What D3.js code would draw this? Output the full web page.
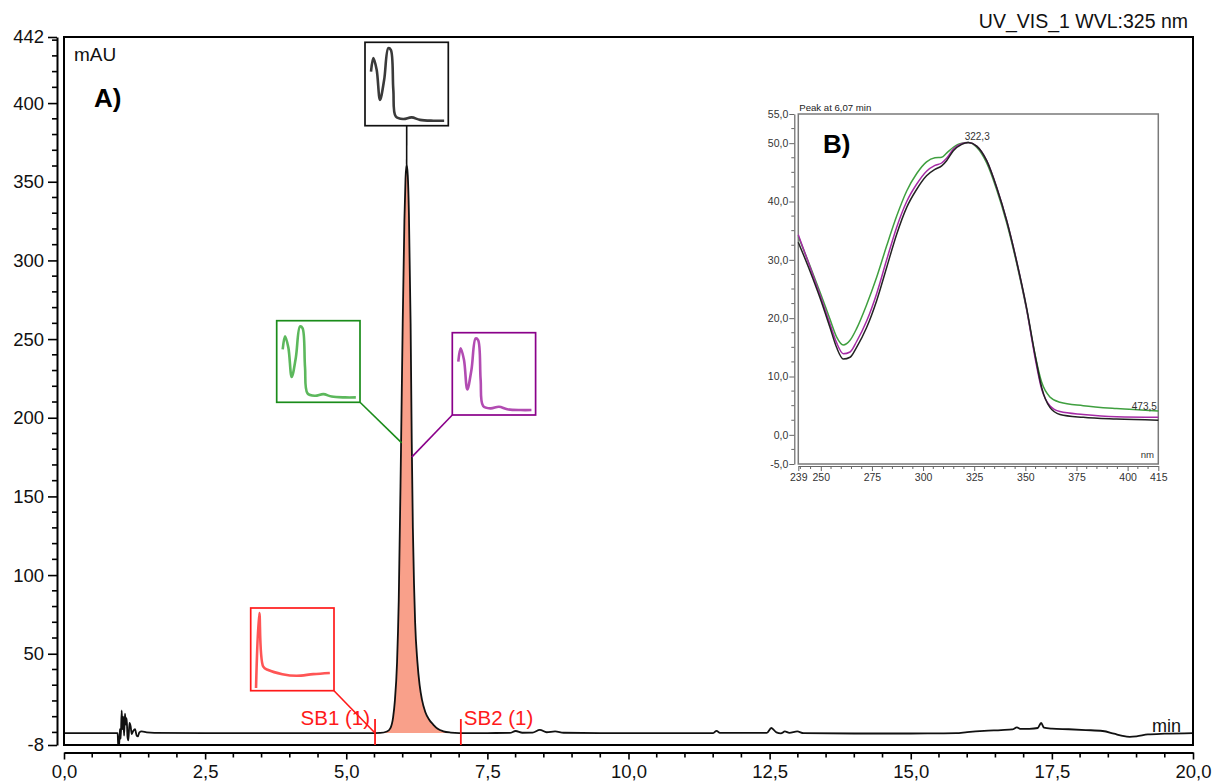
<!DOCTYPE html>
<html><head><meta charset="utf-8">
<script src="https://cdn.jsdelivr.net/npm/d3@7/dist/d3.min.js"></script>
<style>
body{margin:0;background:#fff}
text{font-family:"Liberation Sans",Arial,Helvetica,sans-serif}
</style>
</head><body>
<svg id="chart" width="1217" height="782"></svg>
<script>
// ---------- DATA ----------
// Chromatogram (UV_VIS_1, 325 nm): retention time (min) and absorbance (mAU)
const chromTime = [0,0.5,0.9,0.95,0.962,0.975,0.99,1.005,1.022,1.035,1.05,1.065,1.08,1.095,1.11,1.125,1.14,1.16,1.18,1.2,1.228,1.258,1.287,1.31,1.334,1.376,1.465,1.6,2.5,3.5,4.5,5.0,5.5,
  5.6,5.72,5.78,5.83,5.86,5.9,5.93,5.97,6.0,6.03,6.05,6.07,6.09,6.11,6.14,6.16,6.18,6.2,6.22,6.26,6.3,6.34,6.4,6.47,6.54,6.62,6.72,6.85,
  7.0,7.5,7.9,8.0,8.12,8.3,8.43,8.55,8.7,8.85,9.5,10.5,11.5,11.56,11.62,12.45,12.53,12.62,12.7,12.77,12.85,12.99,13.1,14.0,15.0,15.5,15.8,
  16.0,16.3,16.6,16.8,16.88,16.95,17.1,17.25,17.31,17.36,17.5,17.8,18.1,18.4,18.6,18.75,18.88,19.0,19.2,19.5,20.0];
const chromAbs = [-0.4,-0.4,-0.4,-0.4,-9.5,-9.5,2,-4,14,2,10,-2,12,5,9,-3,-5,6,4,-1,1,2,-2,-2.5,0,0.6,0,-0.3,-0.4,-0.4,-0.4,-0.4,-0.4,
  -0.3,0.6,2.6,9.6,19.6,44.6,84,180,260,325,352,361,354,330,260,185,130,95,70,45,30,21,13,8,5,2.3,0.7,-0.1,
  -0.4,-0.4,-0.3,0.9,-0.2,-0.1,1.6,0.1,0.7,-0.2,-0.4,-0.4,-0.4,1.0,-0.3,-0.3,2.8,0.0,-0.6,0.6,-0.3,0.6,-0.5,-0.7,-0.7,-0.6,-0.5,
  0.2,1.0,1.5,1.9,3.2,2.2,2.3,2.8,6.0,3.0,2.4,2.0,1.5,0.9,-0.8,-2.2,-2.8,-2.5,-1.3,-0.8,-0.4];

// y-axis tick labels (mAU) and x-axis tick labels (min)
const yMajorTicks = [442,400,350,300,250,200,150,100,50,-8];
const xMajorTicks = [0,2.5,5,7.5,10,12.5,15,17.5,20];

// Peak integration markers
const markerNames = ["SB1 (1)","SB2 (1)"];
const markerTimes = [5.51,7.03];

// Peak spectrum thumbnail (normalised wavelength position, normalised height from top)
const thumbU = [0.072,0.10,0.14,0.18,0.23,0.28,0.31,0.34,0.37,0.46,0.56,0.66,0.82,0.95];
const thumbV = [0.352,0.19,0.33,0.69,0.45,0.07,0.09,0.57,0.89,0.92,0.90,0.93,0.94,0.94];
// Baseline (SB1) spectrum thumbnail
const thumbRedU = [0.064,0.103,0.151,0.21,0.38,0.55,0.75,0.95];
const thumbRedV = [0.967,0.06,0.71,0.75,0.80,0.82,0.80,0.786];

// Thumbnail anchor points on the chromatogram (time, mAU)
const anchorNames = ["apex","upslope","downslope","baseline"];
const anchorTime = [6.07,5.982,6.16,5.51];
const anchorAbs  = [361,184,175,-0.4];

// Inset B: UV spectra of the peak at 6,07 min
const specNm = [239,244.7,249.6,254.5,257.7,261,264.3,267.5,272.4,277.3,282.2,287.1,292,296.9,301.7,305.8,309.1,311.5,314.8,318.9,322.1,326.2,331.1,336,340.9,345.7,350.6,354.7,358,362,366.9,378.3,394.6,415];
const specApex = [33.0,28.1,23.5,18.4,15.0,13.0,13.3,15.0,18.4,23.0,28.7,34.4,39.0,42.1,44.4,45.5,46.1,47.0,48.7,49.8,50.1,49.5,47.0,42.4,36.7,29.8,21.8,13.8,8.1,4.7,3.5,3.0,2.7,2.5];
const specDown = [34.3,28.8,24.0,19.0,15.8,13.9,14.2,16.0,19.5,24.2,30.0,35.6,40.0,43.0,45.2,46.2,46.6,47.4,49.0,49.9,50.1,49.5,47.0,42.4,36.7,29.8,21.6,13.3,7.8,5.0,4.0,3.5,3.1,3.0];
const specUp   = [34.0,29.0,24.5,19.8,16.8,15.4,16.2,18.2,22.3,27.0,32.4,37.5,41.8,44.8,46.8,47.5,47.6,48.3,49.3,50.0,50.1,49.3,46.6,42.0,36.3,29.5,21.5,13.8,9.0,6.5,5.6,5.0,4.5,4.1];
const insetYTicks = [55,50,40,30,20,10,0,-5];
const insetXTicks = [239,250,275,300,325,350,375,400,415];
const insetAnnot = [{nm:322.3,label:"322,3"},{nm:473.5,label:"473,5"}];

// ---------- CHART ----------
const svg = d3.select("#chart");
const F = "Liberation Sans, Arial, sans-serif";
const comma = v => String(v).replace(".", ",");

const L = 64, R = 1193, T = 37, B = 745;
const x = d3.scaleLinear().domain([0,20]).range([L,R]);
const y = d3.scaleLinear().domain([-8,442]).range([B,T]);

// Title
svg.append("text").attr("x",1188).attr("y",28).attr("text-anchor","end")
  .attr("font-size",19.5).attr("fill","#111").text("UV_VIS_1 WVL:325 nm");

// y axis (separate line left of frame)
const yAxis = d3.axisLeft(y).tickValues(yMajorTicks).tickSize(9).tickSizeOuter(0).tickFormat(d => d);
const gy = svg.append("g").attr("transform","translate(57,0)").call(yAxis);
gy.select(".domain").attr("stroke","#000").attr("stroke-width",2);
gy.selectAll(".tick line").attr("stroke","#000").attr("stroke-width",1.6);
gy.selectAll(".tick text").attr("font-size",18.5).attr("font-family",F).attr("fill","#111").attr("x",-13);
const yMinor = d3.range(0,441,10).filter(v => !yMajorTicks.includes(v));
gy.selectAll(".minor").data(yMinor).join("line").attr("class","minor")
  .attr("x1",-5).attr("x2",0).attr("y1",d=>y(d)).attr("y2",d=>y(d)).attr("stroke","#000").attr("stroke-width",1.6);

// x axis (separate line below frame)
const xAxis = d3.axisBottom(x).tickValues(xMajorTicks).tickSize(7).tickSizeOuter(0).tickFormat(d => d.toFixed(1).replace(".",","));
const gx = svg.append("g").attr("transform","translate(0,752.5)").call(xAxis);
gx.select(".domain").attr("stroke","#000").attr("stroke-width",2);
gx.selectAll(".tick line").attr("stroke","#000").attr("stroke-width",1.6);
gx.selectAll(".tick text").attr("font-size",18.5).attr("font-family",F).attr("fill","#111").attr("y",12);
const xMinor = d3.range(0.5,20,0.5).filter(v => !xMajorTicks.includes(v));
gx.selectAll(".minor").data(xMinor).join("line").attr("class","minor")
  .attr("x1",d=>x(d)).attr("x2",d=>x(d)).attr("y1",0).attr("y2",5).attr("stroke","#000").attr("stroke-width",1.6);

// clip
svg.append("defs").append("clipPath").attr("id","clipA")
  .append("rect").attr("x",L).attr("y",T).attr("width",R-L).attr("height",B-T);

// fill under main peak
const chrom = chromTime.map((t,i) => ({t, v: chromAbs[i]}));
const peakPts = chrom.filter(d => d.t >= markerTimes[0] && d.t <= markerTimes[1]);
svg.append("path").datum(peakPts).attr("clip-path","url(#clipA)")
  .attr("d", d3.area().x(d=>x(d.t)).y0(y(-0.4)).y1(d=>y(d.v)).curve(d3.curveMonotoneX))
  .attr("fill","#f9a08a");

// chromatogram line
svg.append("path").datum(chrom).attr("clip-path","url(#clipA)")
  .attr("d", d3.line().x(d=>x(d.t)).y(d=>y(d.v)).curve(d3.curveMonotoneX))
  .attr("fill","none").attr("stroke","#111").attr("stroke-width",1.8);

// frame
svg.append("rect").attr("x",L).attr("y",T).attr("width",R-L).attr("height",B-T)
  .attr("fill","none").attr("stroke","#000").attr("stroke-width",2);

// labels
svg.append("text").attr("x",74).attr("y",61).attr("font-size",19).attr("fill","#111").text("mAU");
svg.append("text").attr("x",94).attr("y",107).attr("font-size",26).attr("font-weight","bold").attr("fill","#000").text("A)");
svg.append("text").attr("x",1181).attr("y",732).attr("text-anchor","end").attr("font-size",18).attr("fill","#111").text("min");

// integration markers
markerTimes.forEach((t,i) => {
  svg.append("line").attr("x1",x(t)).attr("x2",x(t)).attr("y1",y(8.5)).attr("y2",y(-8))
    .attr("stroke","#ff1a1a").attr("stroke-width",1.8);
});
svg.append("text").attr("x",x(markerTimes[0])-5).attr("y",725).attr("text-anchor","end")
  .attr("font-size",20.5).attr("fill","#ff1a1a").text(markerNames[0]);
svg.append("text").attr("x",x(markerTimes[1])+3).attr("y",725).attr("text-anchor","start")
  .attr("font-size",20.5).attr("fill","#ff1a1a").text(markerNames[1]);

// spectrum thumbnails
const boxes = [
  {x:365, y:42.3, w:83.3, h:83.4, stroke:"#111", line:"#3a3a3a", u:thumbU, v:thumbV, anchor:0, cx:406.7, cy:125.7},
  {x:276.7, y:320.7, w:83.3, h:81.6, stroke:"#1a8c1a", line:"#5cb85c", u:thumbU, v:thumbV, anchor:1, cx:360, cy:402.3},
  {x:452.3, y:332.7, w:83.3, h:82.3, stroke:"#8a008a", line:"#b24cb2", u:thumbU, v:thumbV, anchor:2, cx:452.3, cy:415},
  {x:250.7, y:608, w:83.3, h:82.7, stroke:"#ff1a1a", line:"#ff5555", u:thumbRedU, v:thumbRedV, anchor:3, cx:334, cy:690.7}
];
boxes.forEach(b => {
  // connector
  svg.append("line").attr("x1",b.cx).attr("y1",b.cy)
    .attr("x2",x(anchorTime[b.anchor])).attr("y2",y(anchorAbs[b.anchor]))
    .attr("stroke",b.stroke).attr("stroke-width",1.6);
  svg.append("rect").attr("x",b.x).attr("y",b.y).attr("width",b.w).attr("height",b.h)
    .attr("fill","#fff").attr("stroke",b.stroke).attr("stroke-width",1.7);
  const bu = d3.scaleLinear().domain([0,1]).range([b.x,b.x+b.w]);
  const bv = d3.scaleLinear().domain([0,1]).range([b.y,b.y+b.h]);
  const pts = b.u.map((u,i)=>[u,b.v[i]]);
  svg.append("path").datum(pts)
    .attr("d", d3.line().x(d=>bu(d[0])).y(d=>bv(d[1])).curve(d3.curveCatmullRom))
    .attr("fill","none").attr("stroke",b.line).attr("stroke-width",2.6).attr("stroke-linejoin","round");
});

// ---------- INSET B ----------
const iL = 798.3, iR = 1158.3, iT = 114, iB = 464;
const ix = d3.scaleLinear().domain([239,415]).range([iL,iR]);
const iy = d3.scaleLinear().domain([-5,55]).range([iB,iT]);
const ig = svg.append("g");
ig.append("rect").attr("x",iL).attr("y",iT).attr("width",iR-iL).attr("height",iB-iT)
  .attr("fill","#fff").attr("stroke","#7a7a7a").attr("stroke-width",1.5);

// inset y axis
const iyAxis = d3.axisLeft(iy).tickValues(insetYTicks).tickSize(5).tickSizeOuter(0).tickFormat(d => d.toFixed(1).replace(".",","));
const giy = ig.append("g").attr("transform",`translate(${iL-4},0)`).call(iyAxis);
giy.select(".domain").attr("stroke","#666").attr("stroke-width",1.2);
giy.selectAll(".tick line").attr("stroke","#666");
giy.selectAll(".tick text").attr("font-size",10.5).attr("font-family",F).attr("fill","#333").attr("x",-6);
giy.selectAll(".minor").data(d3.range(-5,55.1,2.5).filter(v=>!insetYTicks.includes(v))).join("line")
  .attr("class","minor").attr("x1",-3).attr("x2",0).attr("y1",d=>iy(d)).attr("y2",d=>iy(d)).attr("stroke","#666");

// inset x axis
const ixAxis = d3.axisBottom(ix).tickValues(insetXTicks).tickSize(5).tickSizeOuter(0).tickFormat(d => d);
const gix = ig.append("g").attr("transform",`translate(0,${iB+2})`).call(ixAxis);
gix.select(".domain").attr("stroke","#666").attr("stroke-width",1.2);
gix.selectAll(".tick line").attr("stroke","#666");
gix.selectAll(".tick text").attr("font-size",10.5).attr("font-family",F).attr("fill","#333").attr("y",8);
gix.selectAll(".minor").data(d3.range(240,415,5).filter(v=>!insetXTicks.includes(v))).join("line")
  .attr("class","minor").attr("x1",d=>ix(d)).attr("x2",d=>ix(d)).attr("y1",0).attr("y2",3).attr("stroke","#666");

// spectra
const specLine = d3.line().x((d,i)=>ix(specNm[i])).y(d=>iy(d)).curve(d3.curveMonotoneX);
[[specUp,"#3f9f3f"],[specDown,"#a52aa5"],[specApex,"#222"]].forEach(([s,c]) => {
  ig.append("path").datum(s).attr("d",specLine).attr("fill","none").attr("stroke",c).attr("stroke-width",1.5);
});

ig.append("text").attr("x",iL+1).attr("y",110.5).attr("font-size",9.6).attr("fill","#222").text("Peak at 6,07 min");
ig.append("text").attr("x",823).attr("y",153).attr("font-size",26).attr("font-weight","bold").attr("fill","#000").text("B)");
ig.append("text").attr("x",ix(insetAnnot[0].nm)-4).attr("y",140).attr("font-size",10).attr("fill","#333").text(insetAnnot[0].label);
ig.append("text").attr("x",iR-1.5).attr("y",410).attr("text-anchor","end").attr("font-size",10).attr("fill","#333").text(insetAnnot[1].label);
ig.append("text").attr("x",1154).attr("y",458).attr("text-anchor","end").attr("font-size",9.6).attr("fill","#333").text("nm");
</script>
</body></html>
